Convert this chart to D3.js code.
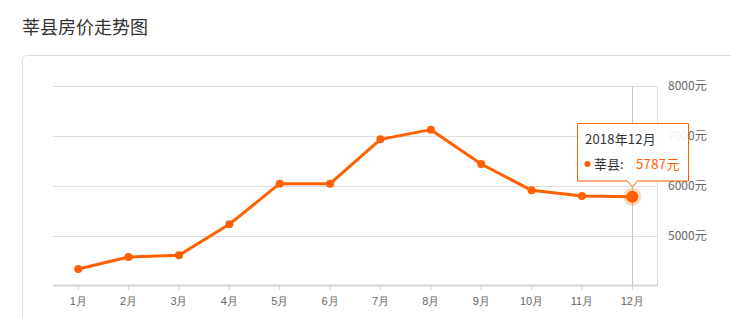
<!DOCTYPE html>
<html><head><meta charset="utf-8">
<script src="https://cdn.jsdelivr.net/npm/d3@7"></script>
<style>
html,body{margin:0;padding:0;background:#fff;}
svg{display:block;font-family:"Microsoft YaHei","Noto Sans CJK SC",sans-serif;}
</style></head>
<body><svg id="c" width="731" height="318"></svg>
<script>
const title = "莘县房价走势图";
const months = ["1月","2月","3月","4月","5月","6月","7月","8月","9月","10月","11月","12月"];
const prices = [4340, 4580, 4614, 5234, 6046, 6046, 6933, 7127, 6440, 5913, 5800, 5787];
const yTicks = [5000, 6000, 7000, 8000];
const seriesName = "莘县";
const tooltipTitle = "2018年12月";
const unit = "元";

const svg = d3.select("#c");
const orange = "#ff6000";

svg.append("text").attr("x", 22).attr("y", 34).attr("font-size", 18).attr("fill", "#333").text(title);
svg.append("rect").attr("x", 22.5).attr("y", 55.5).attr("width", 760).attr("height", 300)
  .attr("rx", 4).attr("fill", "#fff").attr("stroke", "#ddd");

const x = d3.scaleBand().domain(months).range([53, 657.5]);
const y = d3.scaleLinear().domain([4000, 8000]).range([286, 86]);
const cx = d => x(d) + x.bandwidth() / 2;

// grid
svg.append("g").selectAll("line").data(yTicks).join("line")
  .attr("x1", 53).attr("x2", 657.5)
  .attr("y1", d => Math.round(y(d)) + 0.5).attr("y2", d => Math.round(y(d)) + 0.5)
  .attr("stroke", "#ddd");
svg.append("line").attr("x1", 657.5).attr("x2", 657.5).attr("y1", 86).attr("y2", 286).attr("stroke", "#ddd");

// y labels
svg.append("g").selectAll("text").data(yTicks).join("text")
  .attr("x", 668).attr("y", d => y(d) + 4).attr("font-size", 12).attr("fill", "#666")
  .text(d => d + unit);

// x axis
const xAxis = d3.axisBottom(x).tickSize(4).tickPadding(8);
const gx = svg.append("g").attr("transform", "translate(0,285)").call(xAxis);
gx.select(".domain").attr("stroke", "#d6d6d6").attr("stroke-width", 2).attr("d", "M53,0.5H657.5");
gx.selectAll(".tick line").attr("stroke", "#ccc").attr("transform", "translate(0,1)");
gx.selectAll(".tick text").attr("font-size", 11).attr("fill", "#666").attr("font-family", null);

// axis pointer
const last = months.length - 1;
svg.append("line").attr("x1", Math.round(cx(months[last])) + 0.5).attr("x2", Math.round(cx(months[last])) + 0.5)
  .attr("y1", 86).attr("y2", 285).attr("stroke", "#c8c8c8");

// line
const line = d3.line().x((d, i) => cx(months[i])).y(d => y(d));
svg.append("path").datum(prices).attr("d", line).attr("fill", "none")
  .attr("stroke", orange).attr("stroke-width", 3).attr("stroke-linejoin", "round");

svg.append("g").selectAll("circle").data(prices.slice(0, last)).join("circle")
  .attr("cx", (d, i) => cx(months[i])).attr("cy", d => y(d)).attr("r", 4).attr("fill", orange);

const px = cx(months[last]), py = y(prices[last]);
svg.append("circle").attr("cx", px).attr("cy", py).attr("r", 9).attr("fill", orange).attr("opacity", 0.25);
svg.append("circle").attr("cx", px).attr("cy", py).attr("r", 6).attr("fill", orange);

// tooltip
const bx = 577.5, by = 123.5, bw = 111, bh = 57.5;
const ax = px, ah = 6;
const tp = d3.path();
tp.moveTo(bx, by); tp.lineTo(bx + bw, by); tp.lineTo(bx + bw, by + bh);
tp.lineTo(ax + 5, by + bh); tp.lineTo(ax, by + bh + ah); tp.lineTo(ax - 5, by + bh);
tp.lineTo(bx, by + bh); tp.closePath();
svg.append("path").attr("d", tp.toString()).attr("fill", "rgba(255,255,255,0.9)")
  .attr("stroke", orange).attr("stroke-width", 1);
svg.append("text").attr("x", 585).attr("y", 144).attr("font-size", 13).attr("letter-spacing", 0.2).attr("fill", "#333").text(tooltipTitle);
svg.append("circle").attr("cx", 587.5).attr("cy", 164).attr("r", 3).attr("fill", orange);
svg.append("text").attr("x", 594).attr("y", 168.5).attr("font-size", 13).attr("fill", "#333").text(seriesName + ":");
svg.append("text").attr("x", 636).attr("y", 168.5).attr("font-size", 13).attr("letter-spacing", 0.4).attr("fill", orange).text(prices[last] + unit);
</script></body></html>
